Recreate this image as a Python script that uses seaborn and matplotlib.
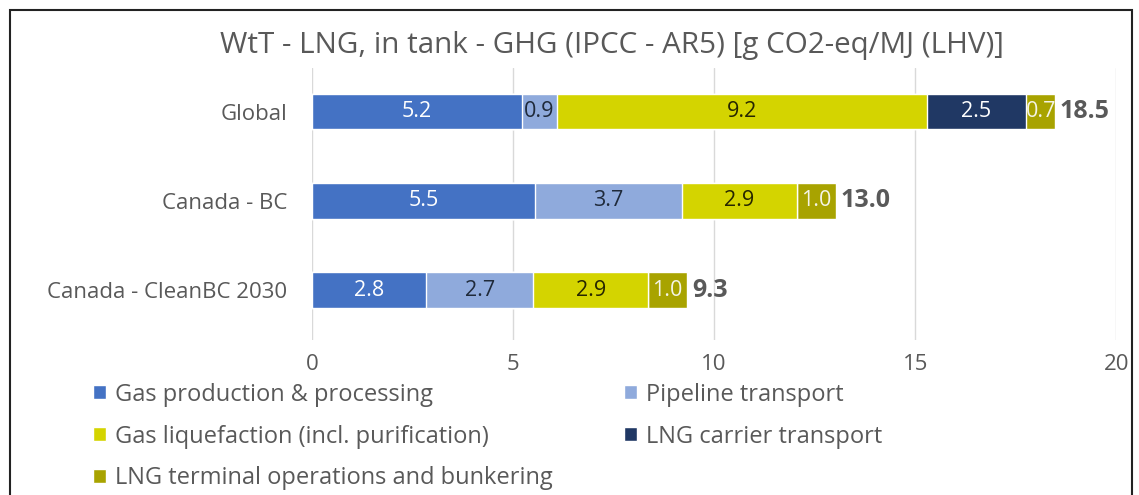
import pandas as pd
import seaborn as sns
import matplotlib.pyplot as plt
from matplotlib.patches import Patch, Rectangle

# data (g CO2-eq/MJ)
regions = ["Global", "Canada - BC", "Canada - CleanBC 2030"]
stages = ["Gas production & processing", "Pipeline transport",
          "Gas liquefaction (incl. purification)", "LNG carrier transport",
          "LNG terminal operations and bunkering"]
gas_production = [5.22, 5.54, 2.84]
pipeline = [0.87, 3.66, 2.66]
liquefaction = [9.20, 2.86, 2.86]
carrier = [2.47, 0.0, 0.0]
terminal = [0.72, 0.97, 0.97]
x_ticks = [0, 5, 10, 15, 20]

colors = ["#4472C4", "#8FAADC", "#D4D400", "#203864", "#A8A300"]
text_colors = ["white", "#1F2A3A", "#262600", "white", "#F4F4E6"]

sns.set_style("white")
plt.rcParams["font.family"] = ["Open Sans", "DejaVu Sans"]

df = pd.DataFrame({"region": regions})
for name, vals in zip(stages, [gas_production, pipeline, liquefaction, carrier, terminal]):
    df[name] = vals
cum = df[stages].cumsum(axis=1)
df["total"] = cum[stages[-1]]

fig = plt.figure(figsize=(11.39, 4.95), dpi=100)
ax = fig.add_axes([0.274, 0.313, 0.706, 0.55])

# stacked bars: draw running totals from the longest down
for i in reversed(range(len(stages))):
    sns.barplot(x=cum[stages[i]], y=df["region"], color=colors[i], saturation=1,
                width=0.4, orient="h", errorbar=None, ax=ax, zorder=3)

# segment labels
for r in range(len(regions)):
    left = 0
    for i, s in enumerate(stages):
        v = df.loc[r, s]
        if v > 0:
            ax.text(left + v / 2, r, f"{v:.1f}", ha="center", va="center",
                    color=text_colors[i], fontsize=15.5, zorder=4)
        left += v
    ax.text(df.loc[r, "total"] + 0.12, r, f"{df.loc[r, 'total']:.1f}", ha="left",
            va="center", color="#595959", fontsize=18, fontweight="bold", zorder=4)

ax.set_xlim(0, 20)
ax.set_ylim(2.56, -0.49)
ax.set_xticks(x_ticks)
ax.grid(axis="x", color="#D9D9D9", linewidth=1, zorder=0)
ax.set_xlabel("")
ax.set_ylabel("")
sns.despine(ax=ax, left=True, bottom=True)
ax.tick_params(axis="x", length=0, pad=10, labelsize=16, labelcolor="#595959")
ax.tick_params(axis="y", length=0, pad=18, labelsize=16, labelcolor="#595959")

fig.text(0.537, 0.908, "WtT - LNG, in tank - GHG (IPCC - AR5) [g CO2-eq/MJ (LHV)]",
         ha="center", va="center", fontsize=21.3, color="#595959")

# legend: column-wise fill gives the row order of the original
order = [0, 2, 4, 1, 3]
handles = [Patch(facecolor=colors[i], label=stages[i]) for i in order]
fig.legend(handles=handles, ncol=2, loc="upper left", bbox_to_anchor=(0.063, 0.27),
           frameon=False, fontsize=17, handlelength=0.55, handleheight=0.55,
           handletextpad=0.4, columnspacing=3.0, labelspacing=0.76,
           labelcolor="#595959")

# outer frame of the screenshot
fig.patches.append(Rectangle((10 / 1139, -0.02), 1122 / 1139, 1.02 - 10 / 495,
                             transform=fig.transFigure, fill=False,
                             edgecolor="#222222", linewidth=1.5))

fig.savefig("out.png", dpi=100)
